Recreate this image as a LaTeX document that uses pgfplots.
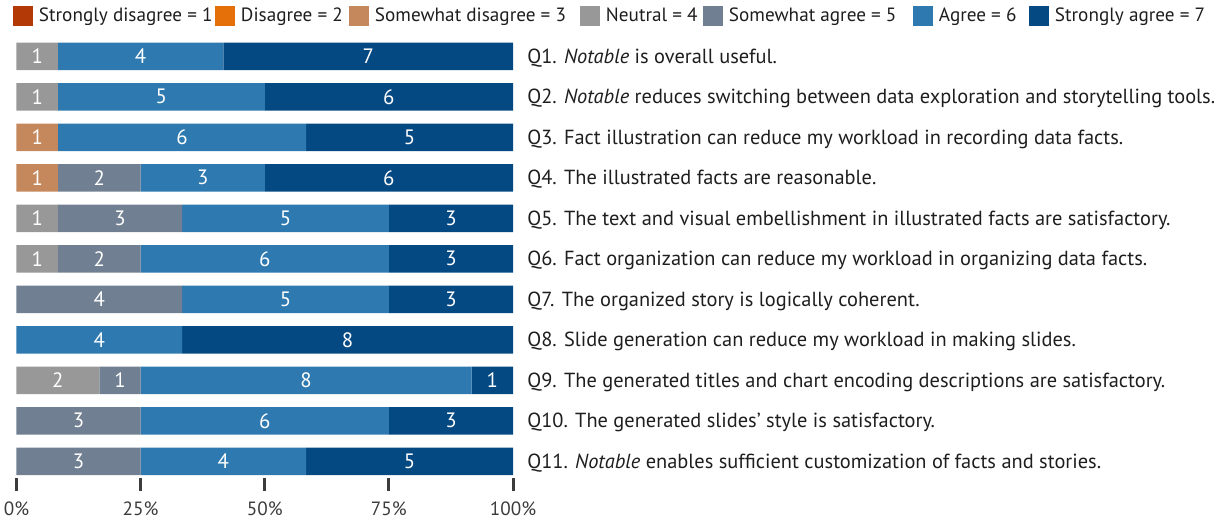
\documentclass[border=0pt]{standalone}
\usepackage{pgfplots}
\pgfplotsset{compat=1.18}
\usepackage{fontspec}
\setmainfont{PT Sans}
\definecolor{cSD}{RGB}{179,58,6}
\definecolor{cD}{RGB}{229,112,10}
\definecolor{cSWD}{RGB}{196,136,92}
\definecolor{cN}{RGB}{152,152,152}
\definecolor{cSWA}{RGB}{112,127,145}
\definecolor{cA}{RGB}{46,122,176}
\definecolor{cSA}{RGB}{5,73,131}
\definecolor{txt}{RGB}{30,30,30}
\definecolor{tk}{RGB}{60,60,60}
\DeclareRobustCommand\fsq{\fontsize{10.2}{12.5}\selectfont}
\DeclareRobustCommand\fsl{\fontsize{9.6}{12}\selectfont}
\DeclareRobustCommand\fst{\fontsize{9.6}{12}\selectfont}
\DeclareRobustCommand\fsb{\fontsize{10.4}{12.5}\selectfont}
\tikzset{qlab/.style={anchor=base west, inner sep=0pt, xshift=7pt, yshift=-3.5pt, text=txt, font=\fsq}}
\pgfplotsset{geom/.style={at={(8.25pt,20pt)}, anchor=south west,
  scale only axis, width=248.25pt, height=220.98pt,
  xmin=0, xmax=12, ymin=0.588, ymax=11.5, clip=false}}
\begin{document}
\begin{tikzpicture}
\path[use as bounding box] (0,0) rectangle (610pt,259pt);
\begin{axis}[geom,
  xbar stacked, bar width=13.75pt,
  axis line style={draw=none},
  ytick=\empty,
  xtick={0,3,6,9,12}, xticklabels={0\%,25\%,50\%,75\%,100\%},
  xtick pos=bottom, tick align=outside, major tick length=6.5pt,
  tick style={line width=1.5pt, color=tk},
  xticklabel style={text=tk, inner sep=0pt, yshift=-5pt, font=\fst},
  legend columns=-1,
  legend style={at={(axis description cs:-0.00705,1.0442)}, anchor=west, draw=none, fill=none,
     inner sep=0pt, outer sep=0pt, text=txt, font=\fsl,
     nodes={inner sep=0pt},
     /tikz/every odd column/.append style={column sep=3pt},
     /tikz/every even column/.append style={column sep=0pt}},
  legend cell align=left,
  legend image code/.code={\fill[#1] (0pt,-5pt) rectangle (10pt,5pt);},
]
\addplot[fill=cSD, draw=none] coordinates {(0,11) (0,10) (0,9) (0,8) (0,7) (0,6) (0,5) (0,4) (0,3) (0,2) (0,1)};
\addlegendentry{\makebox[88pt][l]{Strongly disagree = 1}}
\addplot[fill=cD, draw=none] coordinates {(0,11) (0,10) (0,9) (0,8) (0,7) (0,6) (0,5) (0,4) (0,3) (0,2) (0,1)};
\addlegendentry{\makebox[54pt][l]{Disagree = 2}}
\addplot[fill=cSWD, draw=none] coordinates {(0,11) (0,10) (1,9) (1,8) (0,7) (0,6) (0,5) (0,4) (0,3) (0,2) (0,1)};
\addlegendentry{\makebox[102.5pt][l]{Somewhat disagree = 3}}
\addplot[fill=cN, draw=none] coordinates {(1,11) (1,10) (0,9) (0,8) (1,7) (1,6) (0,5) (0,4) (2,3) (0,2) (0,1)};
\addlegendentry{\makebox[48.5pt][l]{Neutral = 4}}
\addplot[fill=cSWA, draw=none] coordinates {(0,11) (0,10) (0,9) (2,8) (3,7) (2,6) (4,5) (0,4) (1,3) (3,2) (3,1)};
\addlegendentry{\makebox[92pt][l]{Somewhat agree = 5}}
\addplot[fill=cA, draw=none] coordinates {(4,11) (5,10) (6,9) (3,8) (5,7) (6,6) (5,5) (4,4) (8,3) (6,2) (4,1)};
\addlegendentry{\makebox[45pt][l]{Agree = 6}}
\addplot[fill=cSA, draw=none] coordinates {(7,11) (6,10) (5,9) (6,8) (3,7) (3,6) (3,5) (8,4) (1,3) (3,2) (5,1)};
\addlegendentry{Strongly agree = 7}
\node[qlab] at (axis cs:12,11) {Q1. \textit{Notable} is overall useful.};
\node[qlab] at (axis cs:12,10) {Q2. \textit{Notable} reduces switching between data exploration and storytelling tools.};
\node[qlab] at (axis cs:12,9) {Q3. Fact illustration can reduce my workload in recording data facts.};
\node[qlab] at (axis cs:12,8) {Q4. The illustrated facts are reasonable.};
\node[qlab] at (axis cs:12,7) {Q5. The text and visual embellishment in illustrated facts are satisfactory.};
\node[qlab] at (axis cs:12,6) {Q6. Fact organization can reduce my workload in organizing data facts.};
\node[qlab] at (axis cs:12,5) {Q7. The organized story is logically coherent.};
\node[qlab] at (axis cs:12,4) {Q8. Slide generation can reduce my workload in making slides.};
\node[qlab] at (axis cs:12,3) {Q9. The generated titles and chart encoding descriptions are satisfactory.};
\node[qlab] at (axis cs:12,2) {Q10. The generated slides' style is satisfactory.};
\node[qlab] at (axis cs:12,1) {Q11. \textit{Notable} enables sufficient customization of facts and stories.};
\end{axis}
\begin{axis}[geom, hide axis]
\addplot[only marks, mark=none, point meta=explicit symbolic, nodes near coords,
  every node near coord/.append style={anchor=center, text=white, inner sep=0pt, font=\fsb}]
coordinates {
 (0.5,11)[1] (3,11)[4] (8.5,11)[7]
 (0.5,10)[1] (3.5,10)[5] (9,10)[6]
 (0.5,9)[1] (4,9)[6] (9.5,9)[5]
 (0.5,8)[1] (2,8)[2] (4.5,8)[3] (9,8)[6]
 (0.5,7)[1] (2.5,7)[3] (6.5,7)[5] (10.5,7)[3]
 (0.5,6)[1] (2,6)[2] (6,6)[6] (10.5,6)[3]
 (2,5)[4] (6.5,5)[5] (10.5,5)[3]
 (2,4)[4] (8,4)[8]
 (1,3)[2] (2.5,3)[1] (7,3)[8] (11.5,3)[1]
 (1.5,2)[3] (6,2)[6] (10.5,2)[3]
 (1.5,1)[3] (5,1)[4] (9.5,1)[5]
};
\end{axis}
\end{tikzpicture}
\end{document}
